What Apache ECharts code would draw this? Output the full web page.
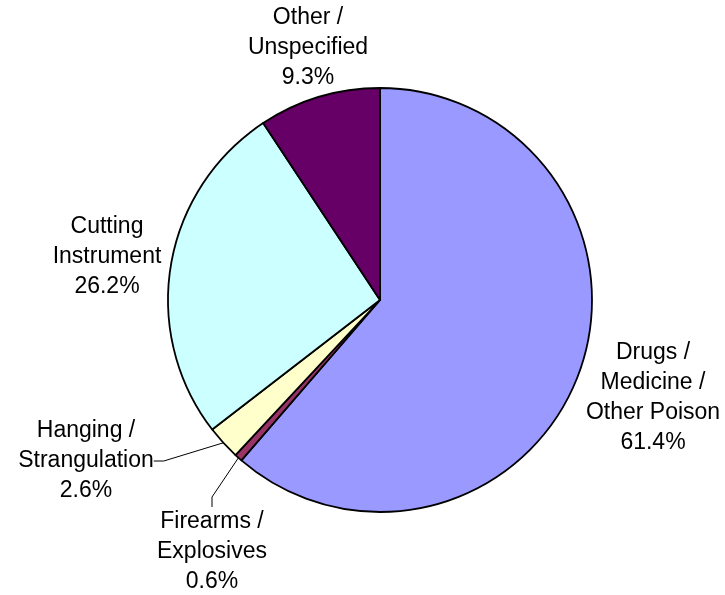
<!DOCTYPE html>
<html>
<head>
<meta charset="utf-8">
<script src="https://cdn.jsdelivr.net/npm/echarts@6/dist/echarts.min.js"></script>
<style>html,body{margin:0;padding:0;background:#fff;}#c{width:725px;height:595px;}</style>
</head>
<body>
<div id="c"></div>
<script>
const categories = ['Drugs /\nMedicine /\nOther Poison', 'Firearms /\nExplosives', 'Hanging /\nStrangulation', 'Cutting\nInstrument', 'Other /\nUnspecified'];
const values = [61.4, 0.6, 2.6, 26.2, 9.3];
const colors = ['#9999FF', '#993366', '#FFFFCC', '#CCFFFF', '#660066'];
const labelPos = [[653, 398], [212, 552], [86, 461], [107, 257], [308, 48]];
const showLine = [false, true, true, false, false];

const chart = echarts.init(document.getElementById('c'));
chart.setOption({
  animation: false,
  backgroundColor: '#ffffff',
  series: [{
    type: 'pie',
    center: [380, 300],
    radius: 212,
    startAngle: 90,
    clockwise: true,
    avoidLabelOverlap: false,
    itemStyle: { borderColor: '#000', borderWidth: 1.8 },
    label: {
      show: true,
      position: 'outside',
      formatter: p => p.name + '\n' + p.value.toFixed(1) + '%',
      fontFamily: 'Arial, "Liberation Sans", sans-serif',
      fontSize: 23,
      lineHeight: 30,
      color: '#000',
      align: 'center'
    },
    labelLine: { lineStyle: { color: '#000', width: 1 }, length: 10, length2: 10 },
    labelLayout: function (params) {
      const p = labelPos[params.dataIndex];
      return { x: p[0], y: p[1], align: 'center', verticalAlign: 'middle' };
    },
    emphasis: { disabled: true },
    data: categories.map((n, i) => ({
      name: n, value: values[i],
      itemStyle: { color: colors[i] },
      labelLine: { show: showLine[i] }
    }))
  }]
});
</script>
</body>
</html>
